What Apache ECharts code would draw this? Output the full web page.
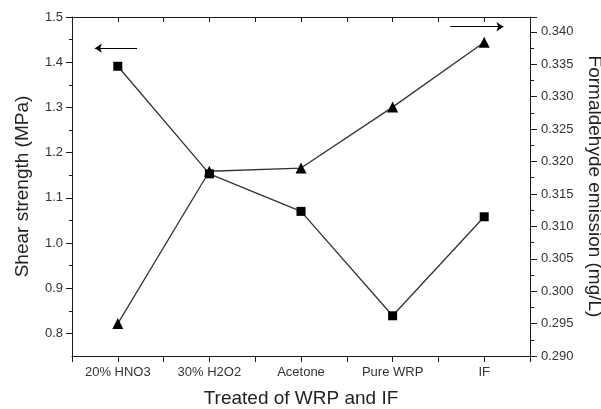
<!DOCTYPE html>
<html>
<head>
<meta charset="utf-8">
<script src="https://cdn.jsdelivr.net/npm/echarts@6/dist/echarts.min.js"></script>
<style>
html,body{margin:0;padding:0;background:#fff;}
#chart{width:601px;height:409px;}
</style>
</head>
<body>
<div id="chart"></div>
<script>
const categories = ['20% HNO3', '30% H2O2', 'Acetone', 'Pure WRP', 'IF'];
const shearStrength = [1.391, 1.153, 1.070, 0.839, 1.058];
const formaldehydeEmission = [0.2950, 0.3185, 0.3190, 0.3284, 0.3384];
const leftMajorTicks = [0.8, 0.9, 1.0, 1.1, 1.2, 1.3, 1.4, 1.5];
const leftMinorTicks = [0.85, 0.95, 1.05, 1.15, 1.25, 1.35, 1.45];
const leftArrow = [[1.21, 1.431], [0.75, 1.431]];
const rightArrow = [[4.63, 0.3408], [5.21, 0.3408]];

const FONT = '"Liberation Sans", Arial, sans-serif';
const AX = '#1a1a1a';
const TXT = '#333333';

const chart = echarts.init(document.getElementById('chart'), null, {renderer: 'canvas'});

function catLabel(v) {
  const r = Math.round(v);
  if (Math.abs(v - r) < 1e-6 && r >= 1 && r <= categories.length) return categories[r - 1];
  return '';
}

const gridRect = {left: 72, right: 71, top: 17, bottom: 53, containLabel: false, outerBoundsMode: 'none'};

const option = {
  backgroundColor: '#ffffff',
  animation: false,
  grid: [Object.assign({}, gridRect), Object.assign({}, gridRect)],
  xAxis: [
    {
      gridIndex: 0, type: 'value', position: 'bottom', min: 0.5, max: 5.5, interval: 0.5,
      axisLine: {show: true, lineStyle: {color: AX, width: 1}},
      axisTick: {show: true, inside: false, length: 6, lineStyle: {color: AX}},
      axisLabel: {formatter: catLabel, fontFamily: FONT, fontSize: 13, color: TXT, margin: 10,
                  showMinLabel: true, showMaxLabel: true},
      splitLine: {show: false},
      name: 'Treated of WRP and IF', nameLocation: 'middle', nameGap: 33,
      nameTextStyle: {fontFamily: FONT, fontSize: 19, color: '#222'}
    },
    {
      gridIndex: 0, type: 'value', position: 'top', min: 0.5, max: 5.5, interval: 0.5,
      axisLine: {show: true, lineStyle: {color: AX, width: 1}},
      axisTick: {show: true, inside: true, length: 5, lineStyle: {color: AX}},
      axisLabel: {show: false},
      splitLine: {show: false}
    },
    {
      gridIndex: 1, type: 'value', min: 0.5, max: 5.5, show: false
    }
  ],
  yAxis: [
    {
      gridIndex: 0, type: 'value', position: 'left', min: 0.75, max: 1.5, interval: 0.05,
      axisLine: {show: true, lineStyle: {color: AX, width: 1}},
      axisTick: {show: true, inside: false, length: 6, lineStyle: {color: AX}, customValues: leftMajorTicks},
      axisLabel: {formatter: v => v.toFixed(1), fontFamily: FONT, fontSize: 13, color: TXT, margin: 9,
                  customValues: leftMajorTicks},
      splitLine: {show: false},
      name: 'Shear strength (MPa)', nameLocation: 'middle', nameGap: 40,
      nameTextStyle: {fontFamily: FONT, fontSize: 19, color: '#222'}
    },
    {
      gridIndex: 0, type: 'value', position: 'right', min: 0.29, max: 0.3423, interval: 0.005,
      axisLine: {show: true, lineStyle: {color: AX, width: 1}},
      axisTick: {show: true, inside: false, length: 7, lineStyle: {color: AX}},
      minorTick: {show: true, splitNumber: 2, length: 4, lineStyle: {color: AX}},
      axisLabel: {formatter: v => v.toFixed(3), fontFamily: FONT, fontSize: 13, color: TXT, margin: 11,
                  showMaxLabel: false},
      splitLine: {show: false},
      name: 'Formaldehyde emission (mg/L)', nameLocation: 'middle', nameGap: 52, nameRotate: -90,
      nameTextStyle: {fontFamily: FONT, fontSize: 19, color: '#222'}
    },
    {
      gridIndex: 1, type: 'value', position: 'left', min: 0.75, max: 1.5, interval: 0.05,
      axisLine: {show: false},
      axisTick: {show: true, inside: false, length: 3, lineStyle: {color: AX}, customValues: leftMinorTicks},
      axisLabel: {show: false},
      splitLine: {show: false}
    }
  ],
  series: [
    {
      type: 'line', xAxisIndex: 0, yAxisIndex: 0,
      data: shearStrength.map((v, i) => [i + 1, v]),
      symbol: 'rect', symbolSize: 9, showAllSymbol: true,
      lineStyle: {color: '#333', width: 1.3},
      itemStyle: {color: '#000'},
      z: 3,
      markLine: {
        silent: true, symbol: ['none', 'arrow'], symbolSize: 7,
        label: {show: false},
        lineStyle: {color: '#000', width: 1, type: 'solid'},
        data: [[{coord: leftArrow[0]}, {coord: leftArrow[1]}]]
      }
    },
    {
      type: 'line', xAxisIndex: 0, yAxisIndex: 1,
      data: formaldehydeEmission.map((v, i) => [i + 1, v]),
      symbol: 'triangle', symbolSize: 11, showAllSymbol: true,
      lineStyle: {color: '#333', width: 1.3},
      itemStyle: {color: '#000'},
      z: 3,
      markLine: {
        silent: true, symbol: ['none', 'arrow'], symbolSize: 7,
        label: {show: false},
        lineStyle: {color: '#000', width: 1, type: 'solid'},
        data: [[{coord: rightArrow[0]}, {coord: rightArrow[1]}]]
      }
    }
  ]
};
chart.setOption(option);
</script>
</body>
</html>
